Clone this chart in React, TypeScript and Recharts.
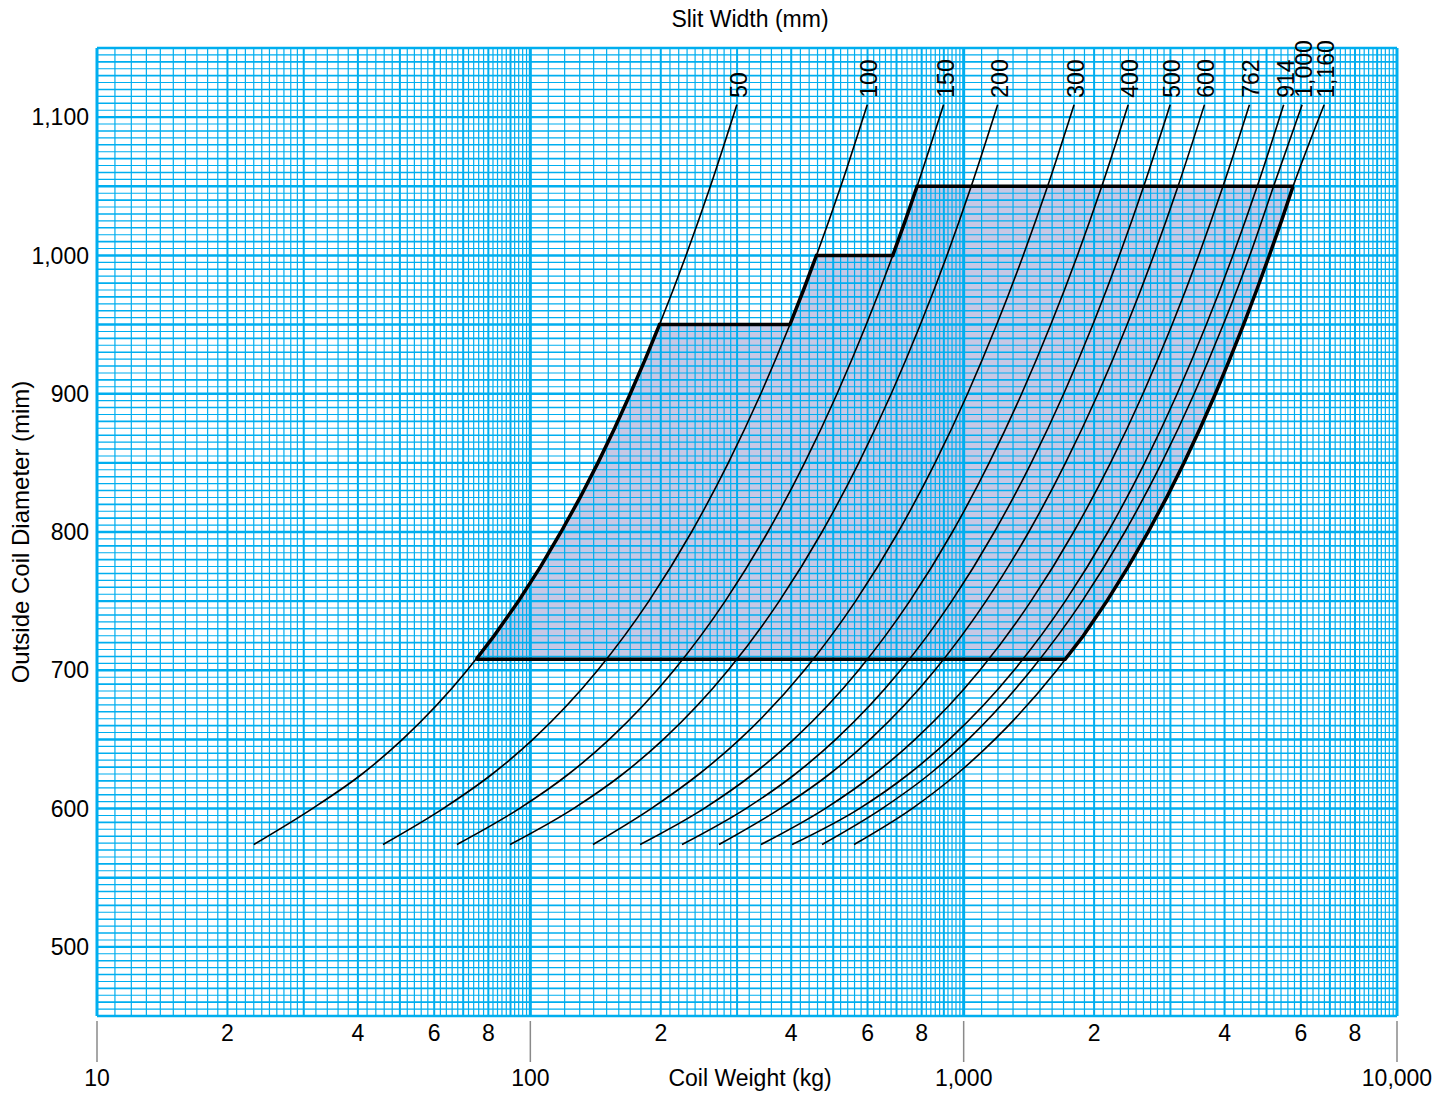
import React from 'react';
import { ComposedChart, Line, Area, XAxis, YAxis, ReferenceLine } from 'recharts';

const CHART_W = 1442;
const CHART_H = 1095;
const FONT = '"Liberation Sans", Arial, Helvetica, sans-serif';
const GRID = '#00aeef';
const FILL = '#c6c8e5';

// outside coil diameters (mm) at which each curve was read
const diameters = [574, 600, 625, 650, 700, 750, 800, 850, 900, 950, 1000, 1050, 1109];

// coil weight (kg) along each slit-width curve, same order as diameters
const w50 = [23.0, 31.4, 40.9, 50.7, 71.5, 93.9, 117.7, 143.2, 170.1, 198.7, 228.7, 260.3, 299.6];
const w100 = [45.7, 62.9, 81.7, 101.4, 143.0, 187.7, 235.5, 286.3, 340.3, 397.3, 457.4, 520.6, 599.2];
const w150 = [67.7, 94.3, 122.6, 152.1, 214.5, 281.6, 353.2, 429.5, 510.4, 596.0, 686.1, 780.9, 898.7];
const w200 = [89.8, 125.7, 163.5, 202.8, 286.0, 375.4, 471.0, 572.7, 680.6, 794.6, 914.9, 1041, 1198];
const w300 = [139.5, 190, 245.2, 304.1, 429.0, 563.1, 706.4, 859.0, 1021, 1192, 1372, 1562, 1798];
const w400 = [179.2, 251.4, 326.9, 405.5, 572.0, 750.8, 941.9, 1145, 1361, 1589, 1830, 2083, 2397];
const w500 = [223.9, 314.3, 408.7, 506.9, 715.0, 938.5, 1177, 1432, 1702, 1987, 2287, 2603, 2996];
const w600 = [272.6, 377.1, 490.4, 608.3, 858.0, 1126, 1413, 1718, 2042, 2384, 2745, 3124, 3595];
const w762 = [340.7, 478.9, 622.8, 772.5, 1090, 1430, 1794, 2182, 2593, 3028, 3486, 3967, 4566];
const w914 = [401.8, 574.4, 747.0, 926.6, 1307, 1716, 2152, 2617, 3110, 3631, 4181, 4759, 5476];
const w1000 = [471.2, 648, 835, 1025, 1430, 1877, 2355, 2863, 3403, 3973, 4574, 5190, 6040];
const w1160 = [558.6, 760, 965, 1180, 1640, 2140, 2665, 3225, 3810, 4425, 5075, 5757, 6790];

const slitLabels = ['50', '100', '150', '200', '300', '400', '500', '600', '762', '914', '1,000', '1,160'];
const curveWeights = [w50, w100, w150, w200, w300, w400, w500, w600, w762, w914, w1000, w1160];

// shaded operating window: weight, lower and upper diameter
const envelopeWeights = [
	75, 82.5, 93.9, 105.6, 117.7, 130.3, 143.2, 156.5, 170.1, 184.2, 198.7,
	397.3, 427, 457.4, 686.1, 733, 780.9,
	1715, 1889, 2140, 2398, 2665, 2941, 3225, 3514, 3810, 4112, 4425, 4745, 5075, 5413, 5757
];
const envelopeLower = [
	708, 708, 708, 708, 708, 708, 708, 708, 708, 708, 708,
	708, 708, 708, 708, 708, 708,
	708, 725, 750, 775, 800, 825, 850, 875, 900, 925, 950, 975, 1000, 1025, 1050
];
const envelopeUpper = [
	708, 725, 750, 775, 800, 825, 850, 875, 900, 925, 950,
	950, 975, 1000, 1000, 1025, 1050,
	1050, 1050, 1050, 1050, 1050, 1050, 1050, 1050, 1050, 1050, 1050, 1050, 1050, 1050, 1050
];

const xTicks = [10, 20, 40, 60, 80, 100, 200, 400, 600, 800, 1000, 2000, 4000, 6000, 8000, 10000];
const decadeTicks = [10, 100, 1000, 10000];
const yTicks = [500, 600, 700, 800, 900, 1000, 1100];

const X_DOMAIN: [number, number] = [10, 10000];
const Y_DOMAIN: [number, number] = [450, 1150];

// log paper rulings
const gridMantissas: number[] = [];
for (let m = 10; m < 30; m += 1) gridMantissas.push(m / 10);
for (let m = 30; m < 100; m += 2) gridMantissas.push(m / 10);

const xGrid: { v: number; w: number }[] = [];
[10, 100, 1000].forEach((dec) => {
	gridMantissas.forEach((m) => {
		const w = m === 1 ? 3 : Number.isInteger(m) ? 2 : 1.2;
		xGrid.push({ v: Math.round(dec * m * 1000) / 1000, w });
	});
});
xGrid.push({ v: 10000, w: 3 });

const yGrid: { v: number; w: number }[] = [];
for (let d = 450; d <= 1150; d += 5) {
	yGrid.push({ v: d, w: d % 50 === 0 ? 2.4 : d % 10 === 0 ? 1.6 : 1.1 });
}

const envelopeData = envelopeWeights.map((w, i) => ({ w, range: [envelopeLower[i], envelopeUpper[i]] }));

const innerMargin = { top: 48, right: 45, bottom: 79, left: 97 };

const fmt = (v: number) => v.toLocaleString('en-US');

const WeightTick = (props: any) => {
	const { x, y, payload } = props;
	const v = payload.value as number;
	if (decadeTicks.includes(v)) {
		return (
			<g>
				<line x1={x} x2={x} y1={y - 3} y2={y + 38} stroke="#8a8a8a" strokeWidth={1.5} />
				<text x={x} y={y + 54} textAnchor="middle" dominantBaseline="central" fontSize={23} fontFamily={FONT} fill="#000">
					{fmt(v)}
				</text>
			</g>
		);
	}
	return (
		<text x={x} y={y + 9} textAnchor="middle" dominantBaseline="central" fontSize={23} fontFamily={FONT} fill="#000">
			{String(v).charAt(0)}
		</text>
	);
};

const endLabel = (text: string) => (props: any) => {
	const { cx, cy, index } = props;
	if (index !== diameters.length - 1) return <g key={`dot-${index}`} />;
	const x = cx + 2;
	const y = cy - 7;
	return (
		<text
			key={`dot-${index}`}
			x={x}
			y={y}
			transform={`rotate(-90 ${x} ${y})`}
			textAnchor="start"
			dominantBaseline="central"
			fontSize={23}
			fontFamily={FONT}
			fill="#000"
		>
			{text}
		</text>
	);
};

const layer: React.CSSProperties = { position: 'absolute', left: 0, top: 0 };

const App: React.FC = () => {
	return (
		<div style={{ position: 'absolute', left: 0, top: 0, width: CHART_W, height: CHART_H, background: '#fff' }}>
			{/* shaded window, under the rulings */}
			<div style={layer}>
				<ComposedChart width={CHART_W} height={CHART_H} margin={innerMargin}>
					<XAxis type="number" dataKey="w" scale="log" domain={X_DOMAIN} hide />
					<YAxis type="number" domain={Y_DOMAIN} hide />
					<Area
						data={envelopeData}
						dataKey="range"
						type="linear"
						stroke="none"
						fill={FILL}
						fillOpacity={1}
						isAnimationActive={false}
						activeDot={false}
					/>
				</ComposedChart>
			</div>

			{/* blue log paper */}
			<div style={layer}>
				<ComposedChart width={CHART_W} height={CHART_H} margin={innerMargin}>
					<XAxis type="number" dataKey="w" scale="log" domain={X_DOMAIN} hide />
					<YAxis type="number" domain={Y_DOMAIN} hide />
					<Area
						data={envelopeData}
						dataKey="range"
						type="linear"
						stroke="none"
						fill="none"
						isAnimationActive={false}
						activeDot={false}
					/>
					{yGrid.map((g) => (
						<ReferenceLine key={`h${g.v}`} y={g.v} stroke={GRID} strokeWidth={g.w} />
					))}
					{xGrid.map((g) => (
						<ReferenceLine key={`v${g.v}`} x={g.v} stroke={GRID} strokeWidth={g.w} />
					))}
				</ComposedChart>
			</div>

			{/* curves, outline and axes */}
			<div style={layer}>
				<ComposedChart width={CHART_W} height={CHART_H} margin={{ top: 48, right: 45, bottom: 0, left: 0 }}>
					<XAxis
						type="number"
						dataKey="w"
						scale="log"
						domain={X_DOMAIN}
						ticks={xTicks}
						interval={0}
						height={79}
						axisLine={false}
						tickLine={false}
						tick={<WeightTick />}
					/>
					<YAxis
						type="number"
						domain={Y_DOMAIN}
						ticks={yTicks}
						width={97}
						axisLine={false}
						tickLine={false}
						tickFormatter={fmt}
						tick={{ fontSize: 23, fill: '#000', fontFamily: FONT }}
					/>
					<Area
						data={envelopeData}
						dataKey="range"
						type="linear"
						stroke="#000"
						strokeWidth={3.5}
						fill="none"
						isAnimationActive={false}
						activeDot={false}
					/>
					{curveWeights.map((ws, ci) => (
						<Line
							key={slitLabels[ci]}
							data={diameters.map((d, i) => ({ w: ws[i], d }))}
							dataKey="d"
							type="monotone"
							stroke="#000"
							strokeWidth={1.6}
							dot={endLabel(slitLabels[ci])}
							activeDot={false}
							isAnimationActive={false}
						/>
					))}
				</ComposedChart>
			</div>

			{/* titles */}
			<svg width={CHART_W} height={CHART_H} style={{ ...layer, pointerEvents: 'none' }}>
				<text x={750} y={19} textAnchor="middle" dominantBaseline="central" fontSize={23} fontFamily={FONT} fill="#000">
					Slit Width (mm)
				</text>
				<text x={750} y={1078} textAnchor="middle" dominantBaseline="central" fontSize={23} fontFamily={FONT} fill="#000">
					Coil Weight (kg)
				</text>
				<text
					x={20}
					y={532}
					transform="rotate(-90 20 532)"
					textAnchor="middle"
					dominantBaseline="central"
					fontSize={24}
					fontFamily={FONT}
					fill="#000"
				>
					Outside Coil Diameter (mim)
				</text>
			</svg>
		</div>
	);
};

export default App;
